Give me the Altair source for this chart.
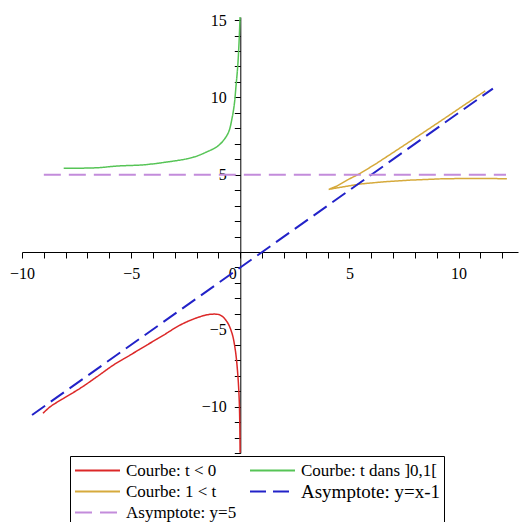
import altair as alt
import pandas as pd

# ---------------- data ----------------
# legend order (Vega fills the 2 legend columns top to bottom)
labels = ["Courbe: t < 0", "Courbe: 1 < t", "Asymptote: y=5",
          "Courbe: t dans ]0,1[", "Asymptote: y=x-1"]
colors = ["#DC2828", "#D6AA3C", "#C38CDB", "#56C456", "#2222C8"]
dashes = [[1, 0], [1, 0], [17, 8], [1, 0], [16, 7]]

red_x = [-9.04, -8.70, -8.09, -7.33, -6.56, -5.80, -5.04, -4.27, -3.51, -2.75,
         -1.98, -1.37, -0.92, -0.61, -0.38, -0.23, -0.12, -0.05, -0.02, -0.01]
red_y = [-10.43, -10.00, -9.46, -8.81, -8.06, -7.30, -6.66, -6.01, -5.37, -4.72,
         -4.25, -4.03, -4.08, -4.51, -5.26, -6.33, -7.84, -9.57, -11.51, -12.99]

green_x = [-8.09, -6.56, -5.65, -4.43, -3.36, -2.44, -1.98, -1.53, -1.07, -0.76,
           -0.53, -0.38, -0.27, -0.20, -0.12, -0.06, -0.01]
green_y = [5.41, 5.45, 5.56, 5.64, 5.82, 6.03, 6.21, 6.48, 6.81, 7.24,
           7.78, 8.64, 9.61, 10.69, 11.98, 13.49, 15.26]

gold_x = [11.22, 10.23, 9.31, 8.25, 7.18, 6.26, 5.50, 4.89, 4.43, 4.05,
          4.73, 5.50, 6.57, 7.79, 9.31, 10.84, 12.21]
gold_y = [10.42, 9.48, 8.60, 7.60, 6.60, 5.75, 5.09, 4.65, 4.27, 4.05,
          4.22, 4.40, 4.54, 4.65, 4.74, 4.76, 4.74]

blue_x = [-9.54, 11.57]
blue_y = [-10.54, 10.57]

purple_x = [-9.0, 12.17]
purple_y = [5.0, 5.0]

x_ticks = list(range(-10, 13))
y_ticks = list(range(-13, 16))

# ---------------- layout ----------------
XMIN, XMAX = -10.0, 12.72
YMIN, YMAX = -13.0, 15.2
W, H = 496, 436
X_AXIS_OFFSET = -H * (0 - YMIN) / (YMAX - YMIN)
Y_AXIS_OFFSET = -W * (0 - XMIN) / (XMAX - XMIN)

series = {
    "Courbe: t < 0": (red_x, red_y),
    "Courbe: t dans ]0,1[": (green_x, green_y),
    "Courbe: 1 < t": (gold_x, gold_y),
    "Asymptote: y=x-1": (blue_x, blue_y),
    "Asymptote: y=5": (purple_x, purple_y),
}
rows = []
for lab, (xs, ys) in series.items():
    for i, (x, y) in enumerate(zip(xs, ys)):
        rows.append({"serie": lab, "i": i, "x": x, "y": y})
df = pd.DataFrame(rows)
smooth = df[df["serie"].isin(["Courbe: t < 0", "Courbe: t dans ]0,1["])]
cusp = df[df["serie"] == "Courbe: 1 < t"]
asym = df[df["serie"].isin(["Asymptote: y=x-1", "Asymptote: y=5"])]

FONT = "Liberation Serif"

legend = alt.Legend(
    title=None, orient="none", legendX=48, legendY=439, columns=2,
    columnPadding=12, rowPadding=0, clipHeight=21, padding=4,
    strokeColor="black", fillColor="white", cornerRadius=0,
    symbolType="stroke", symbolSize=2025, symbolStrokeWidth=2,
    labelFont=FONT, labelColor="black", labelOffset=5,
    labelFontSize=alt.ExprRef(expr="datum.label === 'Asymptote: y=x-1' ? 19 : 17"),
)

x_enc = alt.X(
    "x:Q",
    scale=alt.Scale(domain=[XMIN, XMAX], nice=False, zero=False),
    axis=alt.Axis(
        values=x_ticks, orient="bottom", offset=X_AXIS_OFFSET, title=None, grid=False,
        labelExpr="datum.value % 5 === 0 ? datum.label : ''",
        domainColor="black", tickColor="black", tickSize=6,
        labelFont=FONT, labelFontSize=16, labelColor="black", labelPadding=7,
        labelFlush=False, labelOverlap=False, labelBound=False,
        labelAlign={"condition": {"test": "datum.value === 0", "value": "right"}, "value": "center"},
        labelOffset={"condition": {"test": "datum.value === 0", "value": -4}, "value": 0},
    ),
)
y_enc = alt.Y(
    "y:Q",
    scale=alt.Scale(domain=[YMIN, YMAX], nice=False, zero=False),
    axis=alt.Axis(
        values=y_ticks, orient="left", offset=Y_AXIS_OFFSET, title=None, grid=False,
        labelExpr="(datum.value % 5 === 0 && datum.value !== 0) ? datum.label : ''",
        domainColor="black", tickColor="black", tickSize=6,
        labelFont=FONT, labelFontSize=16, labelColor="black", labelPadding=8,
        labelFlush=False, labelOverlap=False, labelBound=False,
    ),
)
color_enc = alt.Color("serie:N", scale=alt.Scale(domain=labels, range=colors), legend=legend)
dash_enc = alt.StrokeDash("serie:N", scale=alt.Scale(domain=labels, range=dashes), legend=legend)

base_enc = dict(x=x_enc, y=y_enc, color=color_enc, strokeDash=dash_enc, order=alt.Order("i:Q"))

l1 = alt.Chart(smooth).mark_line(strokeWidth=1.5, clip=True, interpolate="catmull-rom").encode(**base_enc)
l2 = alt.Chart(cusp).mark_line(strokeWidth=1.5, clip=True).encode(**base_enc)
l3 = alt.Chart(asym).mark_line(strokeWidth=2, clip=True).encode(**base_enc)

chart = (
    alt.layer(l1, l2, l3)
    .properties(width=W, height=H,
                autosize=alt.AutoSizeParams(type="none"),
                padding={"left": 14, "top": 9, "right": 1, "bottom": 69},
                background="white")
    .configure_view(stroke=None)
)

chart.save("out.html", embed_options={"renderer": "svg", "actions": False})
